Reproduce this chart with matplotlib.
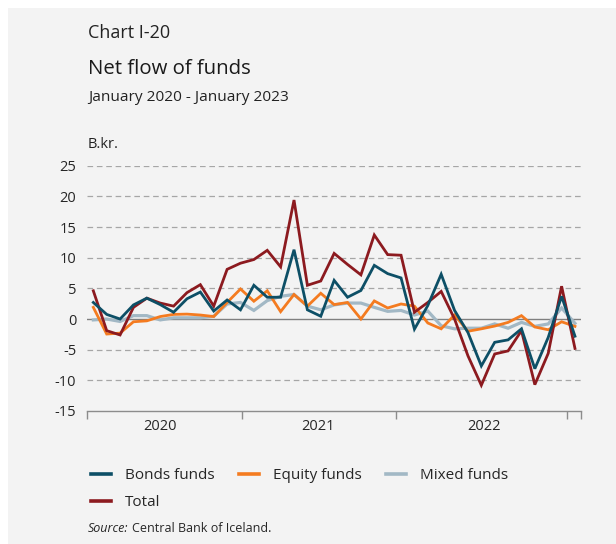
import matplotlib
matplotlib.use("Agg")
import matplotlib.pyplot as plt
from matplotlib.patches import Rectangle
from matplotlib.lines import Line2D

plt.rcParams['font.family'] = ['Open Sans', 'DejaVu Sans']

# Monthly net flow, January 2020 - January 2023 (B.kr.)
months = list(range(37))
bonds = [2.7, 0.75, 0.0, 2.3, 3.4, 2.35, 1.1, 3.3, 4.4, 1.3, 3.1, 1.5,
         5.5, 3.55, 3.55, 11.3, 1.5, 0.45, 6.3, 3.55, 4.65, 8.75, 7.4, 6.7,
         -1.65, 2.2, 7.3, 1.4, -2.2, -7.65, -3.8, -3.4, -1.6, -8.1, -3.0, 3.7,
         -2.8]
equity = [1.9, -2.45, -2.3, -0.45, -0.3, 0.4, 0.75, 0.8, 0.65, 0.4, 2.7, 4.9,
          2.9, 4.6, 1.2, 4.0, 2.1, 4.2, 2.35, 2.7, 0.0, 2.95, 1.8, 2.45,
          2.1, -0.65, -1.6, 0.65, -2.0, -1.6, -1.15, -0.55, 0.55, -1.3, -1.75, -0.45,
          -1.2]
mixed = [-0.15, 0.0, -0.4, 0.55, 0.55, -0.15, 0.2, 0.2, 0.2, 0.45, 2.45, 2.7,
         1.4, 3.0, 3.7, 4.0, 2.1, 1.5, 2.3, 2.6, 2.6, 1.9, 1.25, 1.4,
         0.65, 1.3, -1.1, -1.6, -1.5, -1.5, -0.8, -1.5, -0.55, -1.2, -0.8, 1.8,
         -0.7]
total = [4.6, -1.9, -2.6, 1.9, 3.4, 2.6, 2.1, 4.3, 5.6, 2.1, 8.1, 9.1,
         9.7, 11.2, 8.5, 19.4, 5.5, 6.2, 10.7, 8.9, 7.2, 13.7, 10.5, 10.4,
         1.1, 2.7, 4.5, 0.0, -6.0, -10.8, -5.7, -5.2, -1.9, -10.7, -5.6, 5.35,
         -4.8]

year_labels = ['2020', '2021', '2022']
year_label_pos = [5.0, 16.8, 29.2]
year_bounds = [-0.45, 11.09, 22.6, 35.38, 36.45]
y_ticks = [25, 20, 15, 10, 5, 0, -5, -10, -15]

W, H = 616, 544
fig = plt.figure(figsize=(W / 100, H / 100), dpi=100)
fig.patch.set_facecolor('white')
fig.add_artist(Rectangle((8 / W, 0), 1, 1 - 8 / H, transform=fig.transFigure,
                         facecolor='#f3f3f3', edgecolor='none', zorder=-10))


def px(x, y):
    return x / W, 1 - y / H


ax = fig.add_axes([87.3 / W, 1 - 411 / H, (581 - 87.3) / W, (411 - 165.7) / H])
ax.set_facecolor('none')
ax.set_xlim(-0.45, 36.45)
ax.set_ylim(-15, 25)

# horizontal grid: dashed, with a solid zero line
for v in y_ticks:
    if v == -15:
        continue
    if v == 0:
        ax.axhline(0, color='#7f7f7f', lw=1.0, zorder=1)
    else:
        ax.axhline(v, color='#a6a6a6', lw=0.9, ls=(0, (4.5, 3)), zorder=0)

c_bonds = '#0d4f66'
c_equity = '#f47b20'
c_mixed = '#a2b8c5'
c_total = '#8c1a1f'

ax.plot(months, mixed, color=c_mixed, lw=2.3, zorder=2, solid_joinstyle='miter')
ax.plot(months, equity, color=c_equity, lw=2.0, zorder=3, solid_joinstyle='miter')
ax.plot(months, total, color=c_total, lw=2.0, zorder=4, solid_joinstyle='miter')
ax.plot(months, bonds, color=c_bonds, lw=2.0, zorder=5, solid_joinstyle='miter')

for s in ['top', 'right', 'left']:
    ax.spines[s].set_visible(False)
ax.spines['bottom'].set_color('#8c8c8c')
ax.spines['bottom'].set_linewidth(1.0)

ax.set_yticks(y_ticks)
ax.set_yticklabels([str(v) for v in y_ticks])
ax.tick_params(axis='y', length=0, pad=8, labelsize=10.5, labelcolor='#262626')

ax.set_xticks(year_bounds)
ax.set_xticklabels([])
ax.tick_params(axis='x', length=6, width=1.0, color='#8c8c8c', direction='out')
for xp, lab in zip(year_label_pos, year_labels):
    ax.text(xp, -16.3, lab, ha='center', va='top', fontsize=10.5,
            color='#262626', clip_on=False)

# titles
fig.text(*px(88, 37.5), 'Chart I-20', fontsize=13, color='#222222', va='baseline')
fig.text(*px(88, 74), 'Net flow of funds', fontsize=14.7, color='#1a1a1a', va='baseline')
fig.text(*px(88, 100.5), 'January 2020 - January 2023', fontsize=11.1, color='#222222', va='baseline')
fig.text(*px(88, 148), 'B.kr.', fontsize=10.5, color='#222222', va='baseline')

# legend, filled row by row
names = ['Bonds funds', 'Total', 'Equity funds', 'Mixed funds']
cols = {'Bonds funds': c_bonds, 'Equity funds': c_equity,
        'Mixed funds': c_mixed, 'Total': c_total}
leg_handles = [Line2D([], [], color=cols[n], lw=2.6) for n in names]
fig.legend(leg_handles, names, loc='upper left', bbox_to_anchor=px(91, 468),
           ncol=3, frameon=False, fontsize=11, handlelength=1.31,
           handletextpad=0.92, columnspacing=1.6, labelspacing=0.78,
           borderpad=0, borderaxespad=0, labelcolor='#262626')

src = fig.text(*px(88, 532), 'Source:', fontsize=9, style='italic',
               color='#262626', va='baseline')
fig.canvas.draw()
bb = src.get_window_extent(fig.canvas.get_renderer())
fig.text((bb.x1 + 3) / W, 1 - 532 / H, 'Central Bank of Iceland.', fontsize=9,
         color='#262626', va='baseline')

fig.savefig('out.png', dpi=100)
